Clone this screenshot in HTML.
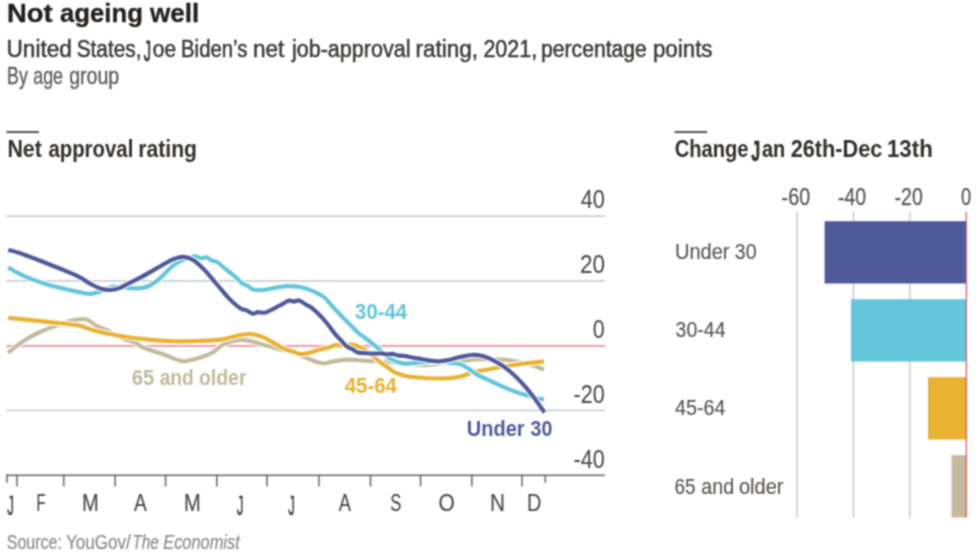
<!DOCTYPE html>
<html lang="en">
<head>
<meta charset="utf-8">
<title>Not ageing well</title>
<style>
html,body{margin:0;padding:0;background:#fff;}
body{width:980px;height:555px;overflow:hidden;}
svg{display:block;font-family:"Liberation Sans",sans-serif;}
</style>
</head>
<body>
<svg width="980" height="555" viewBox="0 0 980 555" role="img" aria-label="Not ageing well">
<defs><filter id="soft" x="0" y="0" width="980" height="555" filterUnits="userSpaceOnUse" color-interpolation-filters="sRGB"><feConvolveMatrix order="3" kernelMatrix="1 2 1 2 4 2 1 2 1" edgeMode="duplicate" preserveAlpha="true"/></filter></defs>
<g filter="url(#soft)">
<rect x="-10" y="-10" width="1000" height="575" fill="#fff"/>
<rect x="6.4" y="131.1" width="32.5" height="2" fill="#55514e"/>
<rect x="674.6" y="131.1" width="32.5" height="2" fill="#55514e"/>
<rect x="6.5" y="215.3" width="598.4" height="1.8" fill="#c9d2d8"/>
<rect x="6.5" y="280.0" width="598.4" height="1.8" fill="#c9d2d8"/>
<rect x="6.5" y="409.5" width="598.4" height="1.8" fill="#c9d2d8"/>
<rect x="6.5" y="344.9" width="598.4" height="2.0" fill="#f09ca4"/>
<path d="M8.2 353.0C9.4 351.9 12.8 348.9 15.6 346.7C18.4 344.5 21.4 342.3 25.3 339.9C29.2 337.5 34.0 334.8 38.9 332.5C43.8 330.2 49.3 328.2 54.5 326.3C59.7 324.4 65.1 322.2 70.0 321.0C74.9 319.8 80.5 319.0 83.7 319.0C87.0 319.0 87.2 319.8 89.5 321.0C91.8 322.2 94.4 324.8 97.3 326.3C100.2 327.8 103.8 328.6 107.0 330.2C110.2 331.8 113.5 334.4 116.8 336.0C120.0 337.6 123.2 338.7 126.5 339.9C129.8 341.1 133.7 342.0 136.3 343.2C138.9 344.4 139.5 345.9 142.1 347.1C144.7 348.3 148.2 349.4 151.8 350.6C155.4 351.8 159.9 353.2 163.5 354.5C167.1 355.8 170.1 357.3 173.3 358.4C176.6 359.5 179.6 361.1 183.0 361.3C186.4 361.5 190.2 360.2 193.6 359.4C197.0 358.6 200.2 357.7 203.4 356.5C206.7 355.3 209.9 354.1 213.1 352.2C216.3 350.2 219.6 346.6 222.8 344.8C226.1 343.0 229.3 342.1 232.6 341.3C235.8 340.5 239.1 339.9 242.3 339.9C245.5 339.9 248.4 340.7 252.0 341.5C255.6 342.3 259.5 343.6 263.7 344.8C267.9 346.0 273.1 347.6 277.3 348.7C281.5 349.8 285.1 350.5 289.0 351.6C292.9 352.7 297.4 354.3 300.7 355.5C303.9 356.7 305.9 357.7 308.5 358.8C311.1 359.9 313.7 361.1 316.3 361.9C318.9 362.6 321.8 363.3 324.1 363.3C326.4 363.3 327.6 362.6 330.0 362.1C332.4 361.7 335.5 361.0 338.2 360.6C340.9 360.2 343.3 359.7 346.4 359.6C349.5 359.5 353.3 359.8 356.7 360.0C360.1 360.2 363.9 360.7 367.0 360.9C370.1 361.1 371.4 360.9 375.2 361.1C379.0 361.3 383.9 361.8 390.0 362.3C396.1 362.8 406.7 363.6 412.1 364.1C417.5 364.6 417.9 365.3 422.4 365.2C426.9 365.1 432.9 364.3 438.9 363.7C444.9 363.1 452.5 362.1 458.4 361.4C464.2 360.7 468.8 359.9 474.0 359.5C479.2 359.1 484.3 359.0 489.5 359.1C494.7 359.2 499.9 359.3 505.1 359.9C510.3 360.4 516.2 361.5 520.7 362.4C525.2 363.3 528.5 364.1 532.4 365.3C536.3 366.5 542.1 368.9 544.0 369.6" fill="none" stroke="#fff" stroke-width="6.3" stroke-linejoin="round" stroke-linecap="butt"/>
<path d="M8.2 353.0C9.4 351.9 12.8 348.9 15.6 346.7C18.4 344.5 21.4 342.3 25.3 339.9C29.2 337.5 34.0 334.8 38.9 332.5C43.8 330.2 49.3 328.2 54.5 326.3C59.7 324.4 65.1 322.2 70.0 321.0C74.9 319.8 80.5 319.0 83.7 319.0C87.0 319.0 87.2 319.8 89.5 321.0C91.8 322.2 94.4 324.8 97.3 326.3C100.2 327.8 103.8 328.6 107.0 330.2C110.2 331.8 113.5 334.4 116.8 336.0C120.0 337.6 123.2 338.7 126.5 339.9C129.8 341.1 133.7 342.0 136.3 343.2C138.9 344.4 139.5 345.9 142.1 347.1C144.7 348.3 148.2 349.4 151.8 350.6C155.4 351.8 159.9 353.2 163.5 354.5C167.1 355.8 170.1 357.3 173.3 358.4C176.6 359.5 179.6 361.1 183.0 361.3C186.4 361.5 190.2 360.2 193.6 359.4C197.0 358.6 200.2 357.7 203.4 356.5C206.7 355.3 209.9 354.1 213.1 352.2C216.3 350.2 219.6 346.6 222.8 344.8C226.1 343.0 229.3 342.1 232.6 341.3C235.8 340.5 239.1 339.9 242.3 339.9C245.5 339.9 248.4 340.7 252.0 341.5C255.6 342.3 259.5 343.6 263.7 344.8C267.9 346.0 273.1 347.6 277.3 348.7C281.5 349.8 285.1 350.5 289.0 351.6C292.9 352.7 297.4 354.3 300.7 355.5C303.9 356.7 305.9 357.7 308.5 358.8C311.1 359.9 313.7 361.1 316.3 361.9C318.9 362.6 321.8 363.3 324.1 363.3C326.4 363.3 327.6 362.6 330.0 362.1C332.4 361.7 335.5 361.0 338.2 360.6C340.9 360.2 343.3 359.7 346.4 359.6C349.5 359.5 353.3 359.8 356.7 360.0C360.1 360.2 363.9 360.7 367.0 360.9C370.1 361.1 371.4 360.9 375.2 361.1C379.0 361.3 383.9 361.8 390.0 362.3C396.1 362.8 406.7 363.6 412.1 364.1C417.5 364.6 417.9 365.3 422.4 365.2C426.9 365.1 432.9 364.3 438.9 363.7C444.9 363.1 452.5 362.1 458.4 361.4C464.2 360.7 468.8 359.9 474.0 359.5C479.2 359.1 484.3 359.0 489.5 359.1C494.7 359.2 499.9 359.3 505.1 359.9C510.3 360.4 516.2 361.5 520.7 362.4C525.2 363.3 528.5 364.1 532.4 365.3C536.3 366.5 542.1 368.9 544.0 369.6" fill="none" stroke="#c2bb9d" stroke-width="4.15" stroke-linejoin="round" stroke-linecap="butt"/>
<path d="M8.2 317.9C11.7 318.2 20.8 319.0 29.2 319.9C37.6 320.8 50.3 322.1 58.4 323.0C66.5 323.9 73.7 324.7 77.9 325.3C82.1 325.9 81.1 326.1 83.7 326.9C86.3 327.7 89.5 329.1 93.4 330.2C97.3 331.3 101.5 332.4 107.0 333.5C112.5 334.6 119.0 335.9 126.5 337.0C134.0 338.1 143.7 339.2 151.8 339.9C159.9 340.6 167.2 341.1 175.2 341.3C183.1 341.5 192.2 341.1 199.5 340.9C206.8 340.7 213.7 340.5 218.9 339.9C224.1 339.3 226.7 338.3 230.6 337.4C234.5 336.5 238.7 335.2 242.3 334.7C245.9 334.1 248.4 333.7 252.0 334.1C255.6 334.6 260.1 335.9 263.7 337.4C267.3 338.8 269.8 340.9 273.4 342.8C277.0 344.8 281.5 347.5 285.1 349.1C288.7 350.7 292.3 351.4 294.9 352.2C297.5 353.0 298.4 354.0 300.7 354.1C303.0 354.2 305.2 353.8 308.5 353.0C311.8 352.2 316.6 350.6 320.2 349.6C323.8 348.6 327.3 348.0 330.0 347.2C332.7 346.4 334.3 345.2 336.2 344.9C338.1 344.6 338.9 345.6 341.3 345.5C343.7 345.4 347.9 344.6 350.5 344.6C353.1 344.6 354.8 345.1 356.7 345.7C358.6 346.3 360.1 347.3 361.8 348.2C363.5 349.1 364.8 349.6 367.0 351.2C369.2 352.8 372.8 356.0 375.2 358.0C377.6 360.0 379.2 361.6 381.3 363.1C383.4 364.6 385.4 365.8 387.5 367.2C389.6 368.6 391.3 370.5 393.7 371.8C396.1 373.1 398.8 374.0 401.9 374.9C405.0 375.8 408.7 376.5 412.1 377.0C415.5 377.5 419.5 377.5 422.4 377.7C425.2 377.9 424.8 378.2 429.2 378.3C433.6 378.4 443.5 378.6 448.7 378.3C453.9 378.0 456.1 377.6 460.3 376.6C464.5 375.6 469.1 373.3 474.0 372.1C478.9 370.9 483.7 370.3 489.5 369.2C495.3 368.1 502.5 366.7 509.0 365.7C515.5 364.7 522.7 363.7 528.5 363.0C534.3 362.3 541.4 361.7 544.0 361.4" fill="none" stroke="#fff" stroke-width="6.3" stroke-linejoin="round" stroke-linecap="butt"/>
<path d="M8.2 317.9C11.7 318.2 20.8 319.0 29.2 319.9C37.6 320.8 50.3 322.1 58.4 323.0C66.5 323.9 73.7 324.7 77.9 325.3C82.1 325.9 81.1 326.1 83.7 326.9C86.3 327.7 89.5 329.1 93.4 330.2C97.3 331.3 101.5 332.4 107.0 333.5C112.5 334.6 119.0 335.9 126.5 337.0C134.0 338.1 143.7 339.2 151.8 339.9C159.9 340.6 167.2 341.1 175.2 341.3C183.1 341.5 192.2 341.1 199.5 340.9C206.8 340.7 213.7 340.5 218.9 339.9C224.1 339.3 226.7 338.3 230.6 337.4C234.5 336.5 238.7 335.2 242.3 334.7C245.9 334.1 248.4 333.7 252.0 334.1C255.6 334.6 260.1 335.9 263.7 337.4C267.3 338.8 269.8 340.9 273.4 342.8C277.0 344.8 281.5 347.5 285.1 349.1C288.7 350.7 292.3 351.4 294.9 352.2C297.5 353.0 298.4 354.0 300.7 354.1C303.0 354.2 305.2 353.8 308.5 353.0C311.8 352.2 316.6 350.6 320.2 349.6C323.8 348.6 327.3 348.0 330.0 347.2C332.7 346.4 334.3 345.2 336.2 344.9C338.1 344.6 338.9 345.6 341.3 345.5C343.7 345.4 347.9 344.6 350.5 344.6C353.1 344.6 354.8 345.1 356.7 345.7C358.6 346.3 360.1 347.3 361.8 348.2C363.5 349.1 364.8 349.6 367.0 351.2C369.2 352.8 372.8 356.0 375.2 358.0C377.6 360.0 379.2 361.6 381.3 363.1C383.4 364.6 385.4 365.8 387.5 367.2C389.6 368.6 391.3 370.5 393.7 371.8C396.1 373.1 398.8 374.0 401.9 374.9C405.0 375.8 408.7 376.5 412.1 377.0C415.5 377.5 419.5 377.5 422.4 377.7C425.2 377.9 424.8 378.2 429.2 378.3C433.6 378.4 443.5 378.6 448.7 378.3C453.9 378.0 456.1 377.6 460.3 376.6C464.5 375.6 469.1 373.3 474.0 372.1C478.9 370.9 483.7 370.3 489.5 369.2C495.3 368.1 502.5 366.7 509.0 365.7C515.5 364.7 522.7 363.7 528.5 363.0C534.3 362.3 541.4 361.7 544.0 361.4" fill="none" stroke="#e9b233" stroke-width="4.15" stroke-linejoin="round" stroke-linecap="butt"/>
<path d="M8.2 267.4C10.1 268.5 15.3 271.8 19.5 273.8C23.6 275.8 28.2 277.8 33.1 279.6C38.0 281.5 43.5 283.4 48.7 284.9C53.9 286.4 59.3 287.6 64.2 288.8C69.1 290.0 73.7 291.1 77.9 291.9C82.1 292.7 85.9 293.8 89.5 293.8C93.1 293.8 96.0 292.9 99.3 291.9C102.5 290.9 106.6 288.6 109.0 287.8C111.4 287.0 111.3 286.9 113.9 286.8C116.5 286.7 120.9 287.1 124.6 287.4C128.3 287.7 132.4 288.5 136.3 288.4C140.2 288.2 144.1 288.1 148.0 286.5C151.9 284.9 156.0 281.6 159.6 278.7C163.2 275.8 166.5 271.6 169.4 268.9C172.3 266.2 174.0 264.5 177.1 262.7C180.2 260.9 184.9 259.3 187.8 258.2C190.7 257.1 192.3 256.3 194.6 256.3C196.9 256.3 199.4 258.0 201.4 258.2C203.4 258.4 204.7 257.0 206.3 257.3C207.9 257.6 209.3 259.4 211.1 260.2C212.9 261.0 214.4 260.5 217.0 262.1C219.6 263.7 223.4 267.3 226.7 269.9C229.9 272.5 233.9 275.4 236.5 277.7C239.1 280.0 240.4 282.1 242.3 283.5C244.2 284.9 246.3 285.1 248.1 286.1C249.9 287.1 250.4 288.8 253.0 289.4C255.6 290.0 259.6 290.3 263.7 290.0C267.8 289.7 273.2 288.0 277.3 287.4C281.4 286.8 284.4 286.2 288.0 286.1C291.6 286.0 295.3 286.2 298.7 286.8C302.1 287.4 305.6 288.4 308.5 289.4C311.4 290.4 313.7 291.4 316.3 292.7C318.9 294.0 321.2 294.7 324.1 297.2C327.0 299.7 330.2 304.1 333.8 307.9C337.4 311.7 342.4 316.9 345.4 320.0C348.4 323.1 349.4 324.0 351.6 326.2C353.8 328.4 356.3 331.2 358.7 333.3C361.1 335.4 363.5 336.7 365.9 338.5C368.3 340.3 370.9 342.3 373.1 344.1C375.3 345.9 377.2 347.4 379.3 349.3C381.4 351.2 383.3 353.8 385.4 355.5C387.4 357.2 389.5 358.4 391.6 359.5C393.7 360.6 395.8 361.4 397.8 362.1C399.9 362.8 401.5 363.4 403.9 363.6C406.3 363.8 409.0 363.5 412.1 363.3C415.2 363.1 418.1 362.6 422.4 362.3C426.7 362.0 433.0 361.4 437.9 361.5C442.8 361.6 447.6 362.5 451.5 363.0C455.4 363.5 458.2 363.6 461.2 364.6C464.2 365.7 466.7 367.6 469.5 369.3C472.3 371.1 474.6 373.2 477.9 375.1C481.2 377.0 485.0 378.3 489.5 380.4C494.0 382.5 499.9 385.5 505.1 387.7C510.3 389.9 515.5 391.8 520.7 393.5C525.9 395.2 532.4 397.0 536.3 398.0C540.2 399.0 542.7 399.2 544.0 399.4" fill="none" stroke="#fff" stroke-width="6.3" stroke-linejoin="round" stroke-linecap="butt"/>
<path d="M8.2 267.4C10.1 268.5 15.3 271.8 19.5 273.8C23.6 275.8 28.2 277.8 33.1 279.6C38.0 281.5 43.5 283.4 48.7 284.9C53.9 286.4 59.3 287.6 64.2 288.8C69.1 290.0 73.7 291.1 77.9 291.9C82.1 292.7 85.9 293.8 89.5 293.8C93.1 293.8 96.0 292.9 99.3 291.9C102.5 290.9 106.6 288.6 109.0 287.8C111.4 287.0 111.3 286.9 113.9 286.8C116.5 286.7 120.9 287.1 124.6 287.4C128.3 287.7 132.4 288.5 136.3 288.4C140.2 288.2 144.1 288.1 148.0 286.5C151.9 284.9 156.0 281.6 159.6 278.7C163.2 275.8 166.5 271.6 169.4 268.9C172.3 266.2 174.0 264.5 177.1 262.7C180.2 260.9 184.9 259.3 187.8 258.2C190.7 257.1 192.3 256.3 194.6 256.3C196.9 256.3 199.4 258.0 201.4 258.2C203.4 258.4 204.7 257.0 206.3 257.3C207.9 257.6 209.3 259.4 211.1 260.2C212.9 261.0 214.4 260.5 217.0 262.1C219.6 263.7 223.4 267.3 226.7 269.9C229.9 272.5 233.9 275.4 236.5 277.7C239.1 280.0 240.4 282.1 242.3 283.5C244.2 284.9 246.3 285.1 248.1 286.1C249.9 287.1 250.4 288.8 253.0 289.4C255.6 290.0 259.6 290.3 263.7 290.0C267.8 289.7 273.2 288.0 277.3 287.4C281.4 286.8 284.4 286.2 288.0 286.1C291.6 286.0 295.3 286.2 298.7 286.8C302.1 287.4 305.6 288.4 308.5 289.4C311.4 290.4 313.7 291.4 316.3 292.7C318.9 294.0 321.2 294.7 324.1 297.2C327.0 299.7 330.2 304.1 333.8 307.9C337.4 311.7 342.4 316.9 345.4 320.0C348.4 323.1 349.4 324.0 351.6 326.2C353.8 328.4 356.3 331.2 358.7 333.3C361.1 335.4 363.5 336.7 365.9 338.5C368.3 340.3 370.9 342.3 373.1 344.1C375.3 345.9 377.2 347.4 379.3 349.3C381.4 351.2 383.3 353.8 385.4 355.5C387.4 357.2 389.5 358.4 391.6 359.5C393.7 360.6 395.8 361.4 397.8 362.1C399.9 362.8 401.5 363.4 403.9 363.6C406.3 363.8 409.0 363.5 412.1 363.3C415.2 363.1 418.1 362.6 422.4 362.3C426.7 362.0 433.0 361.4 437.9 361.5C442.8 361.6 447.6 362.5 451.5 363.0C455.4 363.5 458.2 363.6 461.2 364.6C464.2 365.7 466.7 367.6 469.5 369.3C472.3 371.1 474.6 373.2 477.9 375.1C481.2 377.0 485.0 378.3 489.5 380.4C494.0 382.5 499.9 385.5 505.1 387.7C510.3 389.9 515.5 391.8 520.7 393.5C525.9 395.2 532.4 397.0 536.3 398.0C540.2 399.0 542.7 399.2 544.0 399.4" fill="none" stroke="#63c6db" stroke-width="4.15" stroke-linejoin="round" stroke-linecap="butt"/>
<path d="M8.2 249.9C10.1 250.4 14.4 251.3 19.5 253.0C24.6 254.7 32.4 257.7 38.9 260.2C45.4 262.7 52.5 265.6 58.4 268.0C64.2 270.4 69.8 272.5 74.0 274.4C78.2 276.3 80.8 277.9 83.7 279.6C86.6 281.3 88.6 283.0 91.5 284.5C94.4 286.0 98.1 287.9 101.2 288.8C104.3 289.7 107.1 290.1 110.0 290.0C112.9 289.9 115.6 289.5 118.7 288.4C121.8 287.3 124.9 285.3 128.5 283.5C132.1 281.7 135.7 280.1 140.2 277.7C144.7 275.3 150.8 271.7 155.7 268.9C160.6 266.1 166.2 262.8 169.4 261.1C172.7 259.4 172.8 259.3 175.2 258.6C177.5 257.9 180.4 256.6 183.5 256.9C186.6 257.2 190.0 257.9 193.6 260.2C197.2 262.5 201.4 266.8 205.3 270.9C209.2 274.9 213.1 280.0 217.0 284.5C220.9 289.0 224.8 294.1 228.7 298.1C232.6 302.1 237.4 306.3 240.3 308.3C243.2 310.3 244.1 309.3 246.2 310.2C248.3 311.1 251.1 313.4 253.0 313.7C254.9 314.0 255.9 312.3 257.9 312.1C259.8 311.9 262.1 313.2 264.7 312.7C267.3 312.1 270.3 310.3 273.4 308.8C276.5 307.3 280.6 305.0 283.2 303.6C285.8 302.2 287.2 300.8 289.0 300.5C290.8 300.2 292.2 301.6 293.9 301.6C295.6 301.6 297.0 299.9 299.1 300.5C301.2 301.1 304.3 303.6 306.5 304.9C308.7 306.2 309.8 306.2 312.4 308.3C315.0 310.4 319.2 314.5 322.1 317.6C325.0 320.8 327.6 324.2 330.0 327.2C332.4 330.2 334.3 333.2 336.2 335.4C338.1 337.6 339.6 338.7 341.3 340.5C343.0 342.3 344.5 344.7 346.4 346.2C348.3 347.7 350.7 348.3 352.6 349.3C354.5 350.3 355.6 351.8 357.7 352.4C359.8 353.0 362.3 352.9 364.9 353.1C367.5 353.3 370.4 353.6 373.1 353.6C375.8 353.7 378.9 353.3 381.3 353.4C383.7 353.5 385.6 354.3 387.5 354.4C389.4 354.5 390.9 353.7 392.6 353.9C394.3 354.1 395.9 355.1 397.8 355.4C399.7 355.7 401.5 355.5 403.9 355.9C406.3 356.2 409.0 356.9 412.1 357.5C415.2 358.1 419.4 358.7 422.4 359.2C425.4 359.7 427.1 360.2 430.0 360.6C432.9 361.0 436.6 361.4 439.8 361.3C443.1 361.2 445.9 360.6 449.5 359.9C453.1 359.1 457.6 357.6 461.2 356.8C464.8 356.0 467.8 355.2 471.0 355.0C474.2 354.8 477.5 354.9 480.7 355.5C483.9 356.1 487.1 357.3 490.4 358.8C493.6 360.3 497.0 362.3 500.2 364.3C503.4 366.3 506.1 368.1 509.5 371.0C512.9 373.9 516.9 377.6 520.7 381.7C524.5 385.8 528.4 390.4 532.4 395.5C536.4 400.6 542.5 409.7 544.5 412.5" fill="none" stroke="#fff" stroke-width="6.3" stroke-linejoin="round" stroke-linecap="butt"/>
<path d="M8.2 249.9C10.1 250.4 14.4 251.3 19.5 253.0C24.6 254.7 32.4 257.7 38.9 260.2C45.4 262.7 52.5 265.6 58.4 268.0C64.2 270.4 69.8 272.5 74.0 274.4C78.2 276.3 80.8 277.9 83.7 279.6C86.6 281.3 88.6 283.0 91.5 284.5C94.4 286.0 98.1 287.9 101.2 288.8C104.3 289.7 107.1 290.1 110.0 290.0C112.9 289.9 115.6 289.5 118.7 288.4C121.8 287.3 124.9 285.3 128.5 283.5C132.1 281.7 135.7 280.1 140.2 277.7C144.7 275.3 150.8 271.7 155.7 268.9C160.6 266.1 166.2 262.8 169.4 261.1C172.7 259.4 172.8 259.3 175.2 258.6C177.5 257.9 180.4 256.6 183.5 256.9C186.6 257.2 190.0 257.9 193.6 260.2C197.2 262.5 201.4 266.8 205.3 270.9C209.2 274.9 213.1 280.0 217.0 284.5C220.9 289.0 224.8 294.1 228.7 298.1C232.6 302.1 237.4 306.3 240.3 308.3C243.2 310.3 244.1 309.3 246.2 310.2C248.3 311.1 251.1 313.4 253.0 313.7C254.9 314.0 255.9 312.3 257.9 312.1C259.8 311.9 262.1 313.2 264.7 312.7C267.3 312.1 270.3 310.3 273.4 308.8C276.5 307.3 280.6 305.0 283.2 303.6C285.8 302.2 287.2 300.8 289.0 300.5C290.8 300.2 292.2 301.6 293.9 301.6C295.6 301.6 297.0 299.9 299.1 300.5C301.2 301.1 304.3 303.6 306.5 304.9C308.7 306.2 309.8 306.2 312.4 308.3C315.0 310.4 319.2 314.5 322.1 317.6C325.0 320.8 327.6 324.2 330.0 327.2C332.4 330.2 334.3 333.2 336.2 335.4C338.1 337.6 339.6 338.7 341.3 340.5C343.0 342.3 344.5 344.7 346.4 346.2C348.3 347.7 350.7 348.3 352.6 349.3C354.5 350.3 355.6 351.8 357.7 352.4C359.8 353.0 362.3 352.9 364.9 353.1C367.5 353.3 370.4 353.6 373.1 353.6C375.8 353.7 378.9 353.3 381.3 353.4C383.7 353.5 385.6 354.3 387.5 354.4C389.4 354.5 390.9 353.7 392.6 353.9C394.3 354.1 395.9 355.1 397.8 355.4C399.7 355.7 401.5 355.5 403.9 355.9C406.3 356.2 409.0 356.9 412.1 357.5C415.2 358.1 419.4 358.7 422.4 359.2C425.4 359.7 427.1 360.2 430.0 360.6C432.9 361.0 436.6 361.4 439.8 361.3C443.1 361.2 445.9 360.6 449.5 359.9C453.1 359.1 457.6 357.6 461.2 356.8C464.8 356.0 467.8 355.2 471.0 355.0C474.2 354.8 477.5 354.9 480.7 355.5C483.9 356.1 487.1 357.3 490.4 358.8C493.6 360.3 497.0 362.3 500.2 364.3C503.4 366.3 506.1 368.1 509.5 371.0C512.9 373.9 516.9 377.6 520.7 381.7C524.5 385.8 528.4 390.4 532.4 395.5C536.4 400.6 542.5 409.7 544.5 412.5" fill="none" stroke="#4f5a9b" stroke-width="4.15" stroke-linejoin="round" stroke-linecap="butt"/>
<rect x="6.2" y="474.5" width="598.7" height="1.6" fill="#6e6e6e"/>
<rect x="6.2" y="474.5" width="1.6" height="8.3" fill="#6e6e6e"/>
<rect x="16.1" y="474.5" width="1.6" height="12.0" fill="#6e6e6e"/>
<rect x="62.9" y="474.5" width="1.6" height="12.0" fill="#6e6e6e"/>
<rect x="114.3" y="474.5" width="1.6" height="12.0" fill="#6e6e6e"/>
<rect x="164.8" y="474.5" width="1.6" height="12.0" fill="#6e6e6e"/>
<rect x="216.0" y="474.5" width="1.6" height="12.0" fill="#6e6e6e"/>
<rect x="266.2" y="474.5" width="1.6" height="12.0" fill="#6e6e6e"/>
<rect x="318.1" y="474.5" width="1.6" height="12.0" fill="#6e6e6e"/>
<rect x="369.7" y="474.5" width="1.6" height="12.0" fill="#6e6e6e"/>
<rect x="419.7" y="474.5" width="1.6" height="12.0" fill="#6e6e6e"/>
<rect x="471.0" y="474.5" width="1.6" height="12.0" fill="#6e6e6e"/>
<rect x="521.2" y="474.5" width="1.6" height="12.0" fill="#6e6e6e"/>
<rect x="544.5" y="474.5" width="1.6" height="8.3" fill="#6e6e6e"/>
<rect x="796.2" y="211.7" width="1.5" height="305.8" fill="#c0ccd6"/>
<rect x="852.7" y="211.7" width="1.5" height="305.8" fill="#c0ccd6"/>
<rect x="909.1" y="211.7" width="1.5" height="305.8" fill="#c0ccd6"/>
<rect x="824.6" y="221.2" width="141.6" height="62.3" fill="#4f5a9b"/>
<rect x="851.0" y="299.2" width="115.2" height="62.3" fill="#63c6db"/>
<rect x="928.0" y="377.2" width="38.2" height="62.3" fill="#e9b233"/>
<rect x="951.5" y="455.2" width="14.7" height="62.3" fill="#c2bb9d"/>
<rect x="965.7" y="211.7" width="1.2" height="305.8" fill="#e5525b"/>
<g>
<text x="6.98" y="22.1" font-size="25.4" fill="#231f1c" textLength="45.71" lengthAdjust="spacingAndGlyphs" stroke="#231f1c" stroke-width="0.30" stroke-linejoin="round" font-weight="bold">Not</text>
<text x="59.93" y="22.1" font-size="25.4" fill="#231f1c" textLength="82.93" lengthAdjust="spacingAndGlyphs" stroke="#231f1c" stroke-width="0.30" stroke-linejoin="round" font-weight="bold">ageing</text>
<text x="150.10" y="22.1" font-size="25.4" fill="#231f1c" textLength="49.27" lengthAdjust="spacingAndGlyphs" stroke="#231f1c" stroke-width="0.30" stroke-linejoin="round" font-weight="bold">well</text>
<text x="6.49" y="56.7" font-size="23.0" fill="#3d3a37" textLength="65.33" lengthAdjust="spacingAndGlyphs" stroke="#3d3a37" stroke-width="0.50" stroke-linejoin="round">United</text>
<text x="76.66" y="56.7" font-size="23.0" fill="#3d3a37" textLength="64.93" lengthAdjust="spacingAndGlyphs" stroke="#3d3a37" stroke-width="0.50" stroke-linejoin="round">States,</text>
<text fill="#3d3a37" stroke="#3d3a37" stroke-width="0.50" stroke-linejoin="round"><tspan x="143.81" y="60.8" font-size="28.8" textLength="7.26" lengthAdjust="spacingAndGlyphs" stroke-width="1.05">J</tspan><tspan x="152.86" y="56.7" font-size="23.0" textLength="23.27" lengthAdjust="spacingAndGlyphs">oe</tspan></text>
<text x="181.08" y="56.7" font-size="23.0" fill="#3d3a37" textLength="66.22" lengthAdjust="spacingAndGlyphs" stroke="#3d3a37" stroke-width="0.50" stroke-linejoin="round">Biden’s</text>
<text x="252.92" y="56.7" font-size="23.0" fill="#3d3a37" textLength="31.46" lengthAdjust="spacingAndGlyphs" stroke="#3d3a37" stroke-width="0.50" stroke-linejoin="round">net</text>
<text x="291.93" y="56.7" font-size="23.0" fill="#3d3a37" textLength="118.59" lengthAdjust="spacingAndGlyphs" stroke="#3d3a37" stroke-width="0.50" stroke-linejoin="round">job-approval</text>
<text x="415.43" y="56.7" font-size="23.0" fill="#3d3a37" textLength="62.54" lengthAdjust="spacingAndGlyphs" stroke="#3d3a37" stroke-width="0.50" stroke-linejoin="round">rating,</text>
<text x="483.43" y="56.7" font-size="23.0" fill="#3d3a37" textLength="53.71" lengthAdjust="spacingAndGlyphs" stroke="#3d3a37" stroke-width="0.50" stroke-linejoin="round">2021,</text>
<text x="541.02" y="56.7" font-size="23.0" fill="#3d3a37" textLength="105.86" lengthAdjust="spacingAndGlyphs" stroke="#3d3a37" stroke-width="0.50" stroke-linejoin="round">percentage</text>
<text x="652.94" y="56.7" font-size="23.0" fill="#3d3a37" textLength="59.57" lengthAdjust="spacingAndGlyphs" stroke="#3d3a37" stroke-width="0.50" stroke-linejoin="round">points</text>
<text x="7.08" y="83.6" font-size="23.8" fill="#5f5b58" textLength="20.69" lengthAdjust="spacingAndGlyphs" stroke="#5f5b58" stroke-width="0.35" stroke-linejoin="round">By</text>
<text x="33.29" y="83.6" font-size="23.8" fill="#5f5b58" textLength="29.73" lengthAdjust="spacingAndGlyphs" stroke="#5f5b58" stroke-width="0.35" stroke-linejoin="round">age</text>
<text x="69.22" y="83.6" font-size="23.8" fill="#5f5b58" textLength="49.97" lengthAdjust="spacingAndGlyphs" stroke="#5f5b58" stroke-width="0.35" stroke-linejoin="round">group</text>
<text x="7.40" y="156.6" font-size="23.6" fill="#33302d" textLength="34.49" lengthAdjust="spacingAndGlyphs" font-weight="bold">Net</text>
<text x="48.39" y="156.6" font-size="23.6" fill="#33302d" textLength="84.95" lengthAdjust="spacingAndGlyphs" font-weight="bold">approval</text>
<text x="138.32" y="156.6" font-size="23.6" fill="#33302d" textLength="58.66" lengthAdjust="spacingAndGlyphs" font-weight="bold">rating</text>
<text x="674.69" y="156.8" font-size="23.6" fill="#33302d" textLength="73.90" lengthAdjust="spacingAndGlyphs" font-weight="bold">Change</text>
<text fill="#33302d" stroke="#33302d" stroke-width="0.10" stroke-linejoin="round" font-weight="bold"><tspan x="751.18" y="160.6" font-size="29.0" textLength="8.94" lengthAdjust="spacingAndGlyphs" stroke-width="0.65">J</tspan><tspan x="762.00" y="156.8" font-size="23.6" textLength="23.18" lengthAdjust="spacingAndGlyphs">an</tspan></text>
<text x="790.65" y="156.8" font-size="23.6" fill="#33302d" textLength="91.73" lengthAdjust="spacingAndGlyphs" font-weight="bold">26th-Dec</text>
<text x="886.96" y="156.8" font-size="23.6" fill="#33302d" textLength="45.87" lengthAdjust="spacingAndGlyphs" font-weight="bold">13th</text>
<text x="580.66" y="208.4" font-size="25.0" fill="#4d4946" textLength="24.21" lengthAdjust="spacingAndGlyphs" stroke="#4d4946" stroke-width="0.05" stroke-linejoin="round">40</text>
<text x="579.98" y="273.1" font-size="25.0" fill="#4d4946" textLength="24.92" lengthAdjust="spacingAndGlyphs" stroke="#4d4946" stroke-width="0.05" stroke-linejoin="round">20</text>
<text x="592.85" y="337.9" font-size="25.0" fill="#4d4946" textLength="11.88" lengthAdjust="spacingAndGlyphs" stroke="#4d4946" stroke-width="0.05" stroke-linejoin="round">0</text>
<text x="573.54" y="402.6" font-size="25.0" fill="#4d4946" textLength="31.17" lengthAdjust="spacingAndGlyphs" stroke="#4d4946" stroke-width="0.05" stroke-linejoin="round">-20</text>
<text x="573.54" y="467.6" font-size="25.0" fill="#4d4946" textLength="31.17" lengthAdjust="spacingAndGlyphs" stroke="#4d4946" stroke-width="0.05" stroke-linejoin="round">-40</text>
<text x="781.61" y="204.7" font-size="23.3" fill="#595552" textLength="28.54" lengthAdjust="spacingAndGlyphs" stroke="#595552" stroke-width="0.25" stroke-linejoin="round">-60</text>
<text x="837.92" y="204.7" font-size="23.3" fill="#595552" textLength="28.22" lengthAdjust="spacingAndGlyphs" stroke="#595552" stroke-width="0.25" stroke-linejoin="round">-40</text>
<text x="894.52" y="204.7" font-size="23.3" fill="#595552" textLength="28.22" lengthAdjust="spacingAndGlyphs" stroke="#595552" stroke-width="0.25" stroke-linejoin="round">-20</text>
<text x="960.97" y="204.7" font-size="23.3" fill="#595552" textLength="10.14" lengthAdjust="spacingAndGlyphs" stroke="#595552" stroke-width="0.25" stroke-linejoin="round">0</text>
<text x="675.00" y="259.2" font-size="22.3" fill="#595552" textLength="54.53" lengthAdjust="spacingAndGlyphs" stroke="#595552" stroke-width="0.15" stroke-linejoin="round">Under</text>
<text x="734.82" y="259.2" font-size="22.3" fill="#595552" textLength="21.76" lengthAdjust="spacingAndGlyphs" stroke="#595552" stroke-width="0.15" stroke-linejoin="round">30</text>
<text x="675.62" y="337.2" font-size="22.3" fill="#595552" textLength="49.87" lengthAdjust="spacingAndGlyphs" stroke="#595552" stroke-width="0.15" stroke-linejoin="round">30-44</text>
<text x="675.11" y="414.6" font-size="22.3" fill="#595552" textLength="50.39" lengthAdjust="spacingAndGlyphs" stroke="#595552" stroke-width="0.15" stroke-linejoin="round">45-64</text>
<text x="674.56" y="493.5" font-size="22.3" fill="#595552" textLength="20.99" lengthAdjust="spacingAndGlyphs" stroke="#595552" stroke-width="0.15" stroke-linejoin="round">65</text>
<text x="701.31" y="493.5" font-size="22.3" fill="#595552" textLength="32.78" lengthAdjust="spacingAndGlyphs" stroke="#595552" stroke-width="0.15" stroke-linejoin="round">and</text>
<text x="738.90" y="493.5" font-size="22.3" fill="#595552" textLength="44.63" lengthAdjust="spacingAndGlyphs" stroke="#595552" stroke-width="0.15" stroke-linejoin="round">older</text>
<text x="355.09" y="318.6" font-size="22.7" fill="#63c6db" textLength="52.01" lengthAdjust="spacingAndGlyphs" font-weight="bold">30-44</text>
<text x="131.69" y="385.4" font-size="22.7" fill="#c2bb9d" textLength="22.51" lengthAdjust="spacingAndGlyphs" font-weight="bold">65</text>
<text x="159.73" y="385.4" font-size="22.7" fill="#c2bb9d" textLength="34.02" lengthAdjust="spacingAndGlyphs" font-weight="bold">and</text>
<text x="198.92" y="385.4" font-size="22.7" fill="#c2bb9d" textLength="47.62" lengthAdjust="spacingAndGlyphs" font-weight="bold">older</text>
<text x="344.79" y="392.7" font-size="22.7" fill="#e9b233" textLength="52.01" lengthAdjust="spacingAndGlyphs" font-weight="bold">45-64</text>
<text x="466.80" y="435.6" font-size="22.9" fill="#4f5a9b" textLength="57.73" lengthAdjust="spacingAndGlyphs" font-weight="bold">Under</text>
<text x="530.51" y="435.6" font-size="22.9" fill="#4f5a9b" textLength="21.77" lengthAdjust="spacingAndGlyphs" font-weight="bold">30</text>
<text x="7.23" y="514.8" font-size="28.4" fill="#4a4744" textLength="6.65" lengthAdjust="spacingAndGlyphs" stroke="#4a4744" stroke-width="0.65" stroke-linejoin="round">J</text>
<text x="36.52" y="511.3" font-size="23.3" fill="#4a4744" textLength="9.04" lengthAdjust="spacingAndGlyphs" stroke="#4a4744" stroke-width="0.10" stroke-linejoin="round">F</text>
<text x="81.89" y="511.3" font-size="23.3" fill="#4a4744" textLength="16.72" lengthAdjust="spacingAndGlyphs" stroke="#4a4744" stroke-width="0.10" stroke-linejoin="round">M</text>
<text x="134.10" y="511.3" font-size="23.3" fill="#4a4744" textLength="12.78" lengthAdjust="spacingAndGlyphs" stroke="#4a4744" stroke-width="0.10" stroke-linejoin="round">A</text>
<text x="183.89" y="511.3" font-size="23.3" fill="#4a4744" textLength="16.72" lengthAdjust="spacingAndGlyphs" stroke="#4a4744" stroke-width="0.10" stroke-linejoin="round">M</text>
<text x="236.73" y="514.8" font-size="28.4" fill="#4a4744" textLength="6.65" lengthAdjust="spacingAndGlyphs" stroke="#4a4744" stroke-width="0.65" stroke-linejoin="round">J</text>
<text x="288.23" y="514.8" font-size="28.4" fill="#4a4744" textLength="6.65" lengthAdjust="spacingAndGlyphs" stroke="#4a4744" stroke-width="0.65" stroke-linejoin="round">J</text>
<text x="338.80" y="511.3" font-size="23.3" fill="#4a4744" textLength="12.28" lengthAdjust="spacingAndGlyphs" stroke="#4a4744" stroke-width="0.10" stroke-linejoin="round">A</text>
<text x="390.17" y="511.3" font-size="23.3" fill="#4a4744" textLength="11.06" lengthAdjust="spacingAndGlyphs" stroke="#4a4744" stroke-width="0.10" stroke-linejoin="round">S</text>
<text x="438.45" y="511.3" font-size="23.3" fill="#4a4744" textLength="16.30" lengthAdjust="spacingAndGlyphs" stroke="#4a4744" stroke-width="0.10" stroke-linejoin="round">O</text>
<text x="490.04" y="511.3" font-size="23.3" fill="#4a4744" textLength="15.02" lengthAdjust="spacingAndGlyphs" stroke="#4a4744" stroke-width="0.10" stroke-linejoin="round">N</text>
<text x="526.91" y="511.3" font-size="23.3" fill="#4a4744" textLength="14.38" lengthAdjust="spacingAndGlyphs" stroke="#4a4744" stroke-width="0.10" stroke-linejoin="round">D</text>
<text x="6.70" y="549.0" font-size="20.5" fill="#8d8b89" textLength="55.30" lengthAdjust="spacingAndGlyphs" stroke="#8d8b89" stroke-width="0.20" stroke-linejoin="round">Source:</text>
<text x="65.99" y="549.0" font-size="20.5" fill="#8d8b89" textLength="64.65" lengthAdjust="spacingAndGlyphs" stroke="#8d8b89" stroke-width="0.20" stroke-linejoin="round">YouGov/</text>
<text x="132.31" y="549.0" font-size="20.5" fill="#8d8b89" textLength="26.66" lengthAdjust="spacingAndGlyphs" stroke="#8d8b89" stroke-width="0.20" stroke-linejoin="round" font-style="italic">The</text>
<text x="163.21" y="549.0" font-size="20.5" fill="#8d8b89" textLength="76.53" lengthAdjust="spacingAndGlyphs" stroke="#8d8b89" stroke-width="0.20" stroke-linejoin="round" font-style="italic">Economist</text>
</g>
</g>
</svg>
</body>
</html>
